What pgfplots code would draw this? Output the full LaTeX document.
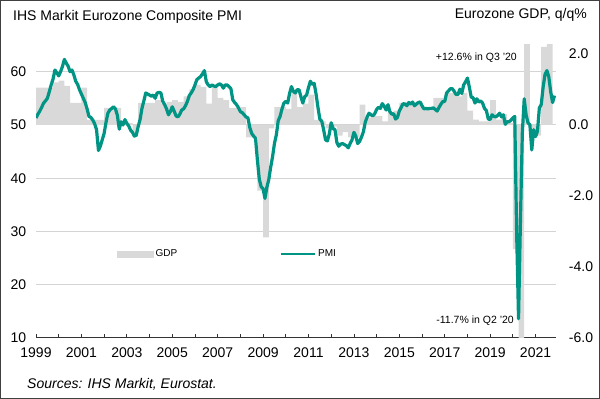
\documentclass[border=0pt]{standalone}
\usepackage{pgfplots}
\pgfplotsset{compat=1.18}
\usepackage{fontspec}
\setmainfont{Liberation Sans}
\definecolor{gdpgray}{RGB}{217,217,217}
\definecolor{pmiteal}{RGB}{0,148,133}
\definecolor{gridgray}{RGB}{212,212,212}
\begin{document}
\begin{tikzpicture}[x=1pt,y=1pt]
\draw[line width=1pt, black!75] (0.5,0.5) rectangle (599.5,398.5);
\pgfplotsset{
  common/.style={
    at={(36pt,61pt)}, anchor=south west,
    scale only axis, width=520pt, height=293pt,
    xmin=0, xmax=274.8,
  },
}
% axis 1: grid, left ticks, bottom axis
\begin{axis}[common, ymin=10, ymax=65,
  axis x line=bottom, axis y line=left, axis line style={-},
  y axis line style={draw=none},
  x axis line style={black!80, line width=1pt},
  ytick={10,20,...,60},
  ymajorgrids, grid style={gridgray, line width=1pt},
  ytick style={draw=none},
  xtick={0,24,...,264},
  xticklabels={1999,2001,2003,2005,2007,2009,2011,2013,2015,2017,2019,2021},
  minor xtick={12,36,...,252},
  tick align=inside,
  major tick length=4pt, minor tick length=4pt,
  xtick style={black!80, line width=0.8pt},
  tick label style={font=\fontsize{14}{16}\selectfont},
  /pgf/number format/assume math mode=true,
  xticklabel style={yshift=-6.5pt},
  yticklabel style={xshift=-6.3pt},
]
\addplot[draw=none] coordinates {(0,50)};
\end{axis}
% axis 2: GDP bars, right axis
\begin{axis}[common, ymin=-6, ymax=2.25,
  axis y line=right, axis x line=none, axis line style={draw=none},
  ytick={-6,-4,...,2}, ytick style={draw=none},
  yticklabel={\pgfmathprintnumber[fixed,fixed zerofill,precision=1,assume math mode=true]{\tick}},
  yticklabel style={font=\fontsize{14}{16}\selectfont, xshift=7.3pt},
]
\addplot[ybar, bar width=3, bar shift=0pt, fill=gdpgray, draw=none] coordinates {
(1.5,1.05) (4.5,1.05) (7.5,1.05) (10.5,1.2) (13.5,1.25) (16.5,1.1) (19.5,0.62) (22.5,0.62)
(25.5,1.05) (28.5,0.14) (31.5,0.14) (34.5,0.14) (37.5,0.48) (40.5,0.48) (43.5,0.48) (46.5,0.08)
(49.5,0.05) (52.5,-0.34) (55.5,0.62) (58.5,0.62) (61.5,0.62) (64.5,0.7) (67.5,0.6) (70.5,0.65)
(73.5,0.7) (76.5,0.65) (79.5,0.8) (82.5,1.0) (85.5,1.13) (88.5,1.07) (91.5,0.6) (94.5,1.13)
(97.5,0.76) (100.5,0.7) (103.5,0.48) (106.5,0.48) (109.5,0.5) (112.5,-0.35) (115.5,-0.35) (118.5,-1.85)
(121.5,-3.17) (124.5,-0.1) (127.5,0.5) (130.5,0.5) (133.5,0.45) (136.5,0.95) (139.5,0.5) (142.5,0.6)
(145.5,0.85) (148.5,0.14) (151.5,0.1) (154.5,-0.1) (157.5,-0.05) (160.5,-0.3) (163.5,-0.2) (166.5,-0.35)
(169.5,-0.35) (172.5,0.57) (175.5,0.2) (178.5,0.25) (181.5,0.25) (184.5,0.1) (187.5,0.37) (190.5,0.4)
(193.5,0.62) (196.5,0.65) (199.5,0.65) (202.5,0.65) (205.5,0.42) (208.5,0.42) (211.5,0.76) (214.5,0.76)
(217.5,0.9) (220.5,0.9) (223.5,0.8) (226.5,0.9) (229.5,0.4) (232.5,0.15) (235.5,0.1) (238.5,0.1)
(241.5,0.7) (244.5,0.15) (247.5,0.3) (250.5,0.05) (253.5,-3.5) (256.5,-11.7) (259.5,12.6) (262.5,-0.35)
(265.5,-0.3) (268.5,2.2) (271.5,2.3)
};
\end{axis}
% axis 3: PMI line
\begin{axis}[common, ymin=10, ymax=65, hide axis,
  legend columns=2,
  legend style={draw=none, fill=none, font=\fontsize{10}{12}\selectfont,
    at={(0.1558,0.2867)}, anchor=west, inner sep=0pt,
    /tikz/every even column/.append style={column sep=100pt}},
]
\addlegendimage{legend image code/.code={\fill[gdpgray] (0pt,-3pt) rectangle (36pt,3pt);}}
\addlegendentry{GDP}
\addplot[pmiteal, line width=3.2pt, line join=round,
  legend image code/.code={\draw[pmiteal, line width=2.8pt] (0pt,0pt) -- (34pt,0pt);}] coordinates {
(0,51.3) (1,52.0) (2,52.6) (3,53.3) (4,54.1) (5,54.5) (6,55.0) (7,56.2) (8,57.5) (9,58.6) (10,60.3) (11,59.8)
(12,59.2) (13,60.0) (14,61.0) (15,62.3) (16,61.6) (17,61.0) (18,60.0) (19,60.3) (20,59.4) (21,58.2) (22,57.6) (23,56.6)
(24,55.8) (25,55.0) (26,54.2) (27,53.0) (28,51.6) (29,51.4) (30,50.9) (31,50.2) (32,49.1) (33,45.2) (34,46.0) (35,47.2)
(36,48.4) (37,50.5) (38,52.2) (39,52.8) (40,53.1) (41,53.4) (42,53.0) (43,51.8) (44,49.2) (45,50.6) (46,50.0) (47,51.0)
(48,50.3) (49,49.8) (50,49.0) (51,48.6) (52,47.9) (53,48.1) (54,49.7) (55,51.0) (56,53.1) (57,54.5) (58,56.0) (59,55.8)
(60,55.6) (61,55.4) (62,55.6) (63,55.0) (64,56.0) (65,56.1) (66,56.0) (67,54.4) (68,53.8) (69,53.0) (70,51.9) (71,52.5)
(72,53.4) (73,52.6) (74,51.7) (75,51.5) (76,52.0) (77,52.8) (78,53.0) (79,53.6) (80,54.4) (81,55.5) (82,56.0) (83,56.6)
(84,57.5) (85,58.5) (86,58.8) (87,59.1) (88,59.6) (89,60.2) (90,58.1) (91,57.5) (92,57.2) (93,57.5) (94,57.3) (95,57.2)
(96,57.5) (97,57.7) (98,57.5) (99,56.9) (100,57.5) (101,57.5) (102,57.2) (103,56.8) (104,54.7) (105,54.2) (106,53.8) (107,53.2)
(108,52.5) (109,52.3) (110,51.9) (111,51.5) (112,51.3) (113,49.5) (114,48.4) (115,47.9) (116,47.5) (117,43.4) (118,39.8) (119,38.4)
(120,38.0) (121,36.2) (122,38.3) (123,39.7) (124,42.0) (125,44.0) (126,46.5) (127,48.1) (128,50.8) (129,51.6) (130,53.0) (131,54.1)
(132,54.4) (133,54.1) (134,55.9) (135,57.2) (136,56.3) (137,56.0) (138,56.6) (139,56.6) (140,55.3) (141,54.1) (142,55.3) (143,55.6)
(144,57.0) (145,58.2) (146,57.6) (147,57.8) (148,55.8) (149,53.3) (150,51.1) (151,50.7) (152,49.1) (153,47.2) (154,47.0) (155,48.3)
(156,50.4) (157,49.3) (158,49.1) (159,46.7) (160,46.0) (161,46.4) (162,46.5) (163,46.3) (164,46.1) (165,45.7) (166,46.5) (167,47.2)
(168,48.6) (169,47.9) (170,46.5) (171,46.9) (172,47.7) (173,48.7) (174,50.5) (175,51.5) (176,52.2) (177,51.9) (178,51.7) (179,52.1)
(180,52.9) (181,53.3) (182,53.1) (183,54.0) (184,53.5) (185,52.8) (186,53.8) (187,52.5) (188,52.0) (189,52.1) (190,51.1) (191,51.4)
(192,52.6) (193,53.3) (194,54.0) (195,53.9) (196,53.6) (197,54.2) (198,53.9) (199,54.3) (200,53.6) (201,53.9) (202,54.2) (203,54.3)
(204,53.6) (205,53.0) (206,53.1) (207,53.0) (208,53.1) (209,53.1) (210,53.2) (211,52.9) (212,52.6) (213,53.3) (214,53.9) (215,54.4)
(216,54.4) (217,56.0) (218,56.4) (219,56.8) (220,56.8) (221,56.3) (222,55.7) (223,55.7) (224,56.7) (225,55.9) (226,57.5) (227,58.1)
(228,58.8) (229,57.1) (230,55.2) (231,55.1) (232,54.1) (233,54.9) (234,54.3) (235,54.5) (236,54.1) (237,53.1) (238,52.7) (239,51.1)
(240,51.0) (241,51.9) (242,51.6) (243,51.5) (244,51.8) (245,52.2) (246,51.5) (247,51.9) (248,50.1) (249,50.6) (250,50.6) (251,50.9)
(252,51.3) (253,51.6) (254,29.7) (255,13.6) (256,31.9) (257,48.5) (258,54.9) (259,51.9) (260,50.4) (261,50.0) (262,45.3) (263,49.1)
(264,47.8) (265,48.8) (266,53.2) (267,53.8) (268,57.1) (269,59.5) (270,60.2) (271,59.0) (272,56.2) (273,54.2) (274,55.5)
};
\addlegendentry{PMI}
\node[anchor=east, inner sep=0pt, font=\fontsize{10.5}{12}\selectfont] at (axis cs:254.2,62.6) {+12.6\% in Q3 '20};
\node[anchor=east, inner sep=0pt, font=\fontsize{10.5}{12}\selectfont] at (axis cs:252.6,13.2) {-11.7\% in Q2 '20};
\end{axis}
\node[anchor=base west, inner sep=0pt, font=\fontsize{14}{16}\selectfont] at (13,378.3) {IHS Markit Eurozone Composite PMI};
\node[anchor=base east, inner sep=0pt, font=\fontsize{14}{16}\selectfont] at (587,380.5) {Eurozone GDP, q/q\%};
\node[anchor=base west, inner sep=0pt, font=\fontsize{14}{16}\selectfont\itshape] at (27,10.5) {Sources: IHS Markit, Eurostat.};
\end{tikzpicture}
\end{document}
